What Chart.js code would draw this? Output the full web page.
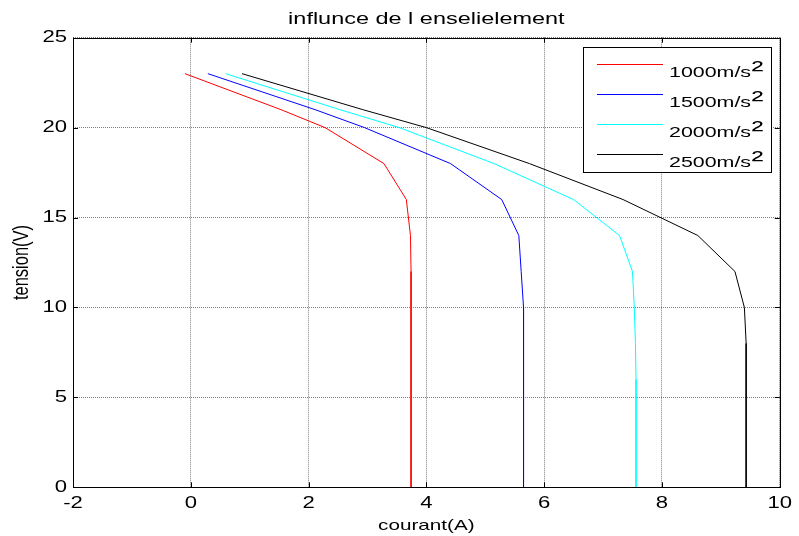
<!DOCTYPE html>
<html>
<head>
<meta charset="utf-8">
<script src="https://cdn.jsdelivr.net/npm/chart.js@4/dist/chart.umd.min.js"></script>
<style>
html,body{margin:0;padding:0;background:#fff;}
#wrap{width:799px;height:536px;}
</style>
</head>
<body>
<div id="wrap"><canvas id="c" width="799" height="536"></canvas></div>
<script>
// ---- data ----
const tension = [23, 21, 20, 18, 16, 14, 12, 10, 8, 6, 4, 2, 0];
const courant1000 = [-0.10, 1.53, 2.28, 3.28, 3.66, 3.73, 3.74, 3.74, 3.74, 3.74, 3.74, 3.74, 3.74];
const courant1500 = [0.29, 2.11, 2.95, 4.41, 5.28, 5.57, 5.61, 5.65, 5.65, 5.65, 5.65, 5.65, 5.65];
const courant2000 = [0.59, 2.53, 3.54, 5.15, 6.50, 7.28, 7.50, 7.53, 7.55, 7.56, 7.56, 7.56, 7.56];
const courant2500 = [0.87, 2.92, 4.00, 5.75, 7.34, 8.61, 9.24, 9.40, 9.43, 9.43, 9.43, 9.43, 9.43];
const seriesLabels = ['1000m/s²', '1500m/s²', '2000m/s²', '2500m/s²'];
const xTickValues = [-2, 0, 2, 4, 6, 8, 10];
const yTickValues = [0, 5, 10, 15, 20, 25];
const chartTitle = 'influnce de l enselielement';
const xTitle = 'courant(A)';
const yTitle = 'tension(V)';

const FONT = '"Liberation Sans", Arial, sans-serif';
const STRETCH = 1.38;

const canvas = document.getElementById('c');
const ctx = canvas.getContext('2d');

// horizontally stretched text rendering (the reference image is wide-stretched)
(function patch(c) {
  const oFill = c.fillText.bind(c);
  const oMeasure = c.measureText.bind(c);
  c.fillText = function (t, x, y, mw) {
    const m = c.getTransform();
    const p = m.transformPoint(new DOMPoint(x, y));
    c.save();
    const n = new DOMMatrix().translate(p.x, p.y).scale(STRETCH, 1).translate(-p.x, -p.y).multiply(m);
    c.setTransform(n);
    if (mw === undefined) oFill(t, x, y); else oFill(t, x, y, mw);
    c.restore();
  };
  c.measureText = function (t) {
    const r = oMeasure(t);
    const m = c.getTransform();
    if (Math.abs(m.b) < 1e-6 && Math.abs(m.c) < 1e-6) {
      return {
        width: r.width * STRETCH,
        actualBoundingBoxLeft: r.actualBoundingBoxLeft * STRETCH,
        actualBoundingBoxRight: r.actualBoundingBoxRight * STRETCH,
        actualBoundingBoxAscent: r.actualBoundingBoxAscent,
        actualBoundingBoxDescent: r.actualBoundingBoxDescent,
        fontBoundingBoxAscent: r.fontBoundingBoxAscent,
        fontBoundingBoxDescent: r.fontBoundingBoxDescent
      };
    }
    return r;
  };
})(ctx);

const colors = ['#ff0000', '#0000ff', '#00ffff', '#000000'];
const seriesX = [courant1000, courant1500, courant2000, courant2500];

const datasets = seriesX.map((xs, i) => ({
  label: seriesLabels[i],
  data: xs.map((x, j) => ({ x: x, y: tension[j] })),
  borderColor: colors[i],
  backgroundColor: colors[i],
  borderWidth: 1,
  pointRadius: 0,
  showLine: true,
  fill: false,
  tension: 0
}));

const boxPlugin = {
  id: 'matlabBox',
  afterDatasetsDraw(chart) {
    const c = chart.ctx, a = chart.chartArea;
    const xs = chart.scales.x, ys = chart.scales.y;
    c.save();
    c.strokeStyle = '#000';
    c.lineWidth = 1;
    c.beginPath();
    const L = 5;
    xTickValues.forEach(v => {
      const px = Math.round(xs.getPixelForValue(v)) + 0.5;
      c.moveTo(px, a.bottom); c.lineTo(px, a.bottom - L);
      c.moveTo(px, a.top); c.lineTo(px, a.top + L);
    });
    yTickValues.forEach(v => {
      const py = Math.round(ys.getPixelForValue(v)) + 0.5;
      c.moveTo(a.left, py); c.lineTo(a.left + L, py);
      c.moveTo(a.right, py); c.lineTo(a.right - L, py);
    });
    c.stroke();
    c.strokeRect(Math.round(a.left) + 0.5, Math.round(a.top) + 0.5,
                 Math.round(a.right) - Math.round(a.left), Math.round(a.bottom) - Math.round(a.top));
    c.restore();
  },
  afterDraw(chart) {
    const c = chart.ctx, a = chart.chartArea;
    const bw = 188, bh = 125;
    const bx = Math.round(a.right - 9 - bw), by = Math.round(a.top + 9);
    c.save();
    c.fillStyle = '#fff';
    c.fillRect(bx, by, bw, bh);
    c.strokeStyle = '#000';
    c.lineWidth = 1;
    c.strokeRect(bx + 0.5, by + 0.5, bw, bh);
    chart.data.datasets.forEach((ds, i) => {
      const ly = Math.round(by + 16.6 + i * 30) + 0.5;
      c.strokeStyle = ds.borderColor;
      c.beginPath();
      c.moveTo(bx + 14, ly);
      c.lineTo(bx + 80, ly);
      c.stroke();
      const parts = ds.label.split('²');
      const tx = bx + 86, base = ly + 12.5;
      c.fillStyle = '#000';
      c.textAlign = 'left';
      c.textBaseline = 'alphabetic';
      c.font = '15.5px ' + FONT;
      c.fillText(parts[0], tx, base);
      const w = c.measureText(parts[0]).width;
      if (ds.label.indexOf('²') >= 0) {
        c.font = '26px ' + FONT;
        c.fillText('²', tx + w + 0.5, base + 1);
      }
    });
    c.restore();
  }
};

new Chart(ctx, {
  type: 'scatter',
  data: { datasets: datasets },
  options: {
    responsive: false,
    devicePixelRatio: 1,
    animation: false,
    layout: { padding: { left: 0, right: 16, top: 0, bottom: 0 } },
    plugins: {
      legend: { display: false },
      tooltip: { enabled: false },
      title: {
        display: true,
        text: chartTitle,
        color: '#000',
        fullSize: false,
        font: { family: FONT, size: 17, weight: 'normal' },
        padding: { top: 9.6, bottom: 7.7 }
      }
    },
    scales: {
      x: {
        type: 'linear',
        min: -2, max: 10,
        afterFit(s) { s.height = 48.7; },
        afterBuildTicks(s) { s.ticks = xTickValues.map(v => ({ value: v })); },
        ticks: { color: '#000', font: { family: FONT, size: 16 }, padding: 7, maxRotation: 0, autoSkip: false },
        grid: { color: 'rgba(0,0,0,0.5)', lineWidth: 1, drawTicks: false },
        border: { display: false, dash: [1, 1] },
        title: { display: true, text: xTitle, color: '#000', font: { family: FONT, size: 15 }, padding: { top: 0, bottom: 1 } }
      },
      y: {
        type: 'linear',
        min: 0, max: 25,
        afterFit(s) { s.width = 73; },
        afterBuildTicks(s) { s.ticks = yTickValues.map(v => ({ value: v })); },
        ticks: { color: '#000', font: { family: FONT, size: 16 }, padding: 6, autoSkip: false },
        grid: { color: 'rgba(0,0,0,0.5)', lineWidth: 1, drawTicks: false },
        border: { display: false, dash: [1, 1] },
        title: { display: true, text: yTitle, color: '#000', font: { family: FONT, size: 16.5 }, padding: { top: 12, bottom: 0 } }
      }
    }
  },
  plugins: [boxPlugin]
});
</script>
</body>
</html>
